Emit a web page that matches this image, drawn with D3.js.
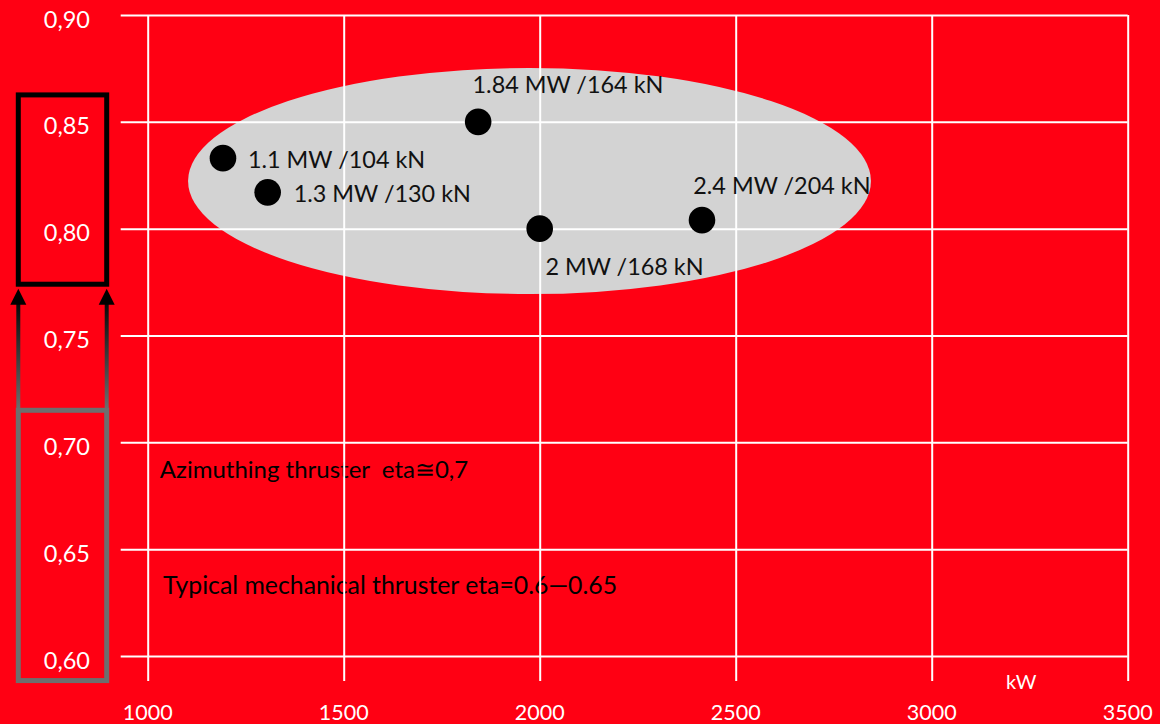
<!DOCTYPE html>
<html>
<head>
<meta charset="utf-8">
<script src="https://cdn.jsdelivr.net/npm/d3@7"></script>
<style>
  html, body { margin: 0; padding: 0; background: #ff0013; }
  svg { display: block; }
  text { font-family: Lato, "Open Sans", sans-serif; white-space: pre; }
</style>
</head>
<body>
<svg id="chart" width="1160" height="724"></svg>
<script>
// ---- data ----
const xTicks = [1000, 1500, 2000, 2500, 3000, 3500];
const xTickLabels = ["1000", "1500", "2000", "2500", "3000", "3500"];
const yTicks = [0.60, 0.65, 0.70, 0.75, 0.80, 0.85, 0.90];
const yTickLabels = ["0,60", "0,65", "0,70", "0,75", "0,80", "0,85", "0,90"];
const powerKW = [1192, 1306, 1843, 2000, 2414];
const efficiency = [0.833, 0.817, 0.850, 0.800, 0.804];
const pointLabels = ["1.1 MW /104 kN", "1.3 MW /130 kN", "1.84 MW /164 kN", "2 MW /168 kN", "2.4 MW /204 kN"];
const clusterCenter = [1974, 0.8223];
const clusterRadius = [871, 0.0529];
const notes = ["Azimuthing thruster  eta\u22450,7", "Typical mechanical thruster eta=0.6\u20140.65"];
const notePos = [[1031, 0.6832], [1039, 0.6291]];
const xUnit = "kW";
const ranges = { azimuth: [0.774, 0.8626], mechanical: [0.5885, 0.715] };

// ---- layout ----
const svg = d3.select("#chart");
const W = 1160, H = 724;
const x = d3.scaleLinear().domain([1000, 3500]).range([147.7, 1127.7]);
const y = d3.scaleLinear().domain([0.60, 0.90]).range([656, 15]);
const red = "#ff0013";
const noteSizes = [24.0, 24.8];

svg.append("rect").attr("width", W).attr("height", H).attr("fill", red);

// ellipse (under grid)
svg.append("ellipse")
  .attr("cx", x(clusterCenter[0]))
  .attr("cy", y(clusterCenter[1]))
  .attr("rx", x(clusterCenter[0] + clusterRadius[0]) - x(clusterCenter[0]))
  .attr("ry", y(clusterCenter[1] - clusterRadius[1]) - y(clusterCenter[1]))
  .attr("fill", "#d3d3d3");

// notes (under grid)
svg.selectAll("text.note").data(notes).join("text")
  .attr("class", "note")
  .attr("x", (d, i) => x(notePos[i][0]))
  .attr("y", (d, i) => y(notePos[i][1]))
  .attr("font-size", (d, i) => noteSizes[i])
  .attr("fill", "#000")
  .text(d => d);

// grid via axes
const gx = svg.append("g").attr("transform", `translate(0,${y(0.60)})`)
  .call(d3.axisBottom(x).tickValues(xTicks).tickFormat(""));
gx.selectAll(".tick line").attr("stroke", "#fff").attr("stroke-width", 2)
  .attr("y2", -(y(0.60) - y(0.90))).attr("y1", 25);
gx.select(".domain").remove();

const gy = svg.append("g").attr("transform", `translate(${x(1000)},0)`)
  .call(d3.axisLeft(y).tickValues(yTicks).tickFormat(""));
gy.selectAll(".tick line").attr("stroke", "#fff").attr("stroke-width", 2)
  .attr("x1", -27).attr("x2", x(3500) - x(1000));
gy.select(".domain").remove();

// tick labels
svg.selectAll("text.xl").data(xTicks).join("text")
  .attr("class", "xl")
  .attr("x", d => x(d)).attr("y", 720)
  .attr("text-anchor", "middle").attr("font-size", 21.5).attr("fill", "#fff")
  .text((d, i) => xTickLabels[i]);

svg.selectAll("text.yl").data(yTicks).join("text")
  .attr("class", "yl")
  .attr("x", 90).attr("y", d => y(d) + 12.5)
  .attr("text-anchor", "end").attr("font-size", 23.5).attr("fill", "#fff")
  .text((d, i) => yTickLabels[i]);

svg.append("text").attr("x", 1006).attr("y", 689)
  .attr("font-size", 20).attr("fill", "#fff").text(xUnit);

// left range boxes
const defs = svg.append("defs");
const grad = defs.append("linearGradient").attr("id", "arrowGrad")
  .attr("gradientUnits", "userSpaceOnUse")
  .attr("x1", 0).attr("y1", y(ranges.mechanical[1])).attr("x2", 0).attr("y2", y(ranges.azimuth[0]) + 10);
grad.append("stop").attr("offset", 0).attr("stop-color", "#6e6e6e");
grad.append("stop").attr("offset", 1).attr("stop-color", "#000");

const boxX0 = 18.3, boxX1 = 106.7;
svg.append("rect")
  .attr("x", boxX0).attr("y", y(ranges.mechanical[1]))
  .attr("width", boxX1 - boxX0).attr("height", y(ranges.mechanical[0]) - y(ranges.mechanical[1]))
  .attr("fill", "none").attr("stroke", "#6e6e6e").attr("stroke-width", 5);
svg.append("rect")
  .attr("x", boxX0).attr("y", y(ranges.azimuth[1]))
  .attr("width", boxX1 - boxX0).attr("height", y(ranges.azimuth[0]) - y(ranges.azimuth[1]))
  .attr("fill", "none").attr("stroke", "#000").attr("stroke-width", 5);

[boxX0, boxX1].forEach(ax => {
  const tipY = y(ranges.azimuth[0]) + 4.5;
  svg.append("line")
    .attr("x1", ax).attr("x2", ax)
    .attr("y1", y(ranges.mechanical[1]) - 2).attr("y2", tipY + 14)
    .attr("stroke", "url(#arrowGrad)").attr("stroke-width", 4);
  svg.append("path")
    .attr("d", `M${ax},${tipY} L${ax - 8},${tipY + 16} L${ax + 8},${tipY + 16} Z`)
    .attr("fill", "#000");
});

// points
const labelOffsets = [[25, 10.3], [26, 10], [-5.6, -28.4], [5.7, 46], [-8.7, -25.7]];
svg.selectAll("circle.pt").data(powerKW).join("circle")
  .attr("class", "pt")
  .attr("cx", d => x(d)).attr("cy", (d, i) => y(efficiency[i]))
  .attr("r", 13.3).attr("fill", "#000");

svg.selectAll("text.pl").data(pointLabels).join("text")
  .attr("class", "pl")
  .attr("x", (d, i) => x(powerKW[i]) + labelOffsets[i][0])
  .attr("y", (d, i) => y(efficiency[i]) + labelOffsets[i][1])
  .attr("font-size", 23.4).attr("fill", "#111")
  .text(d => d);
</script>
</body>
</html>
